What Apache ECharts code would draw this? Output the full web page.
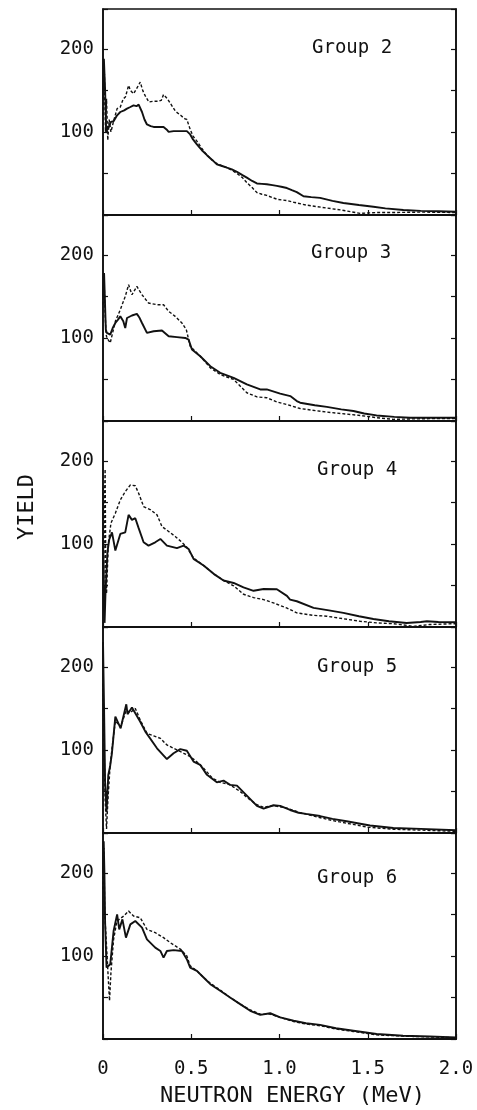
<!DOCTYPE html>
<html>
<head>
<meta charset="utf-8">
<script src="https://cdn.jsdelivr.net/npm/echarts@6/dist/echarts.min.js"></script>
<style>
html,body{margin:0;padding:0;background:#fff;}
#chart{width:477px;height:1110px;}
</style>
</head>
<body>
<div id="chart"></div>
<script>
// ---- data: [energy MeV, yield] ----
const groupNames = ['Group 2', 'Group 3', 'Group 4', 'Group 5', 'Group 6'];
const xTicks = [0, 0.5, 1.0, 1.5, 2.0];
const yTickLabels = [100, 200];

const g2Solid = [[0,140],[0.005,188],[0.012,150],[0.018,100],[0.03,105],[0.045,112],[0.06,113],[0.08,120],[0.098,124],[0.12,126],[0.136,128],[0.155,130],[0.173,132],[0.19,131],[0.202,133],[0.221,124],[0.235,115],[0.249,109],[0.27,107],[0.287,106],[0.31,106],[0.343,106],[0.36,103],[0.372,100],[0.4,101],[0.419,101],[0.45,101],[0.475,101],[0.494,97],[0.51,91],[0.532,85],[0.56,78],[0.589,72],[0.62,66],[0.645,61],[0.675,59],[0.702,57],[0.73,55],[0.759,52],[0.79,48],[0.815,45],[0.845,41],[0.872,38],[0.9,37.5],[0.928,37],[0.96,36],[0.985,35],[1.01,34],[1.042,32.5],[1.07,30],[1.098,27.6],[1.136,22.5],[1.18,21.5],[1.23,20.6],[1.3,17],[1.362,14.5],[1.45,12],[1.532,10],[1.6,8],[1.702,6],[1.8,5],[1.9,4.5],[2.0,4]];
const g2Dashed = [[0,120],[0.008,170],[0.014,100],[0.02,140],[0.027,90],[0.035,115],[0.045,100],[0.06,113],[0.08,128],[0.098,130],[0.115,140],[0.127,142],[0.145,156],[0.155,150],[0.173,146],[0.19,152],[0.211,160],[0.225,150],[0.238,144],[0.26,136],[0.287,137],[0.31,137],[0.33,138],[0.343,145],[0.365,140],[0.383,134],[0.41,125],[0.44,120],[0.462,116],[0.475,115],[0.494,103],[0.51,95],[0.532,89],[0.56,80],[0.589,72],[0.62,66],[0.645,62],[0.675,59],[0.702,57],[0.73,54],[0.759,50],[0.79,45],[0.815,39],[0.845,33],[0.872,27],[0.9,25],[0.928,23.6],[0.96,21],[0.99,18.7],[1.04,17.5],[1.08,15.4],[1.15,12],[1.27,8.3],[1.35,6],[1.457,2],[1.55,3],[1.65,3],[1.8,3.5],[2.0,3]];

const g3Solid = [[0,150],[0.006,178],[0.012,178],[0.016,110],[0.022,106],[0.041,104],[0.055,112],[0.07,118],[0.085,122],[0.098,126],[0.115,120],[0.126,112],[0.136,124],[0.164,127],[0.192,129],[0.205,125],[0.221,118],[0.249,106],[0.287,108],[0.334,109],[0.372,102],[0.419,101],[0.466,100],[0.485,98],[0.504,86],[0.551,78],[0.608,66],[0.664,58],[0.74,52],[0.815,44],[0.891,38],[0.928,38],[1.004,33],[1.061,30],[1.098,24],[1.117,22],[1.2,19],[1.268,17],[1.35,14],[1.419,12],[1.48,9],[1.55,6.7],[1.65,5],[1.74,3.9],[1.85,4],[2.0,4]];
const g3Dashed = [[0,140],[0.006,170],[0.012,130],[0.017,105],[0.022,100],[0.041,94],[0.07,120],[0.098,134],[0.126,150],[0.145,164],[0.164,152],[0.192,162],[0.221,152],[0.258,142],[0.306,140],[0.343,140],[0.372,132],[0.409,126],[0.447,118],[0.472,110],[0.494,90],[0.551,78],[0.608,64],[0.664,56],[0.74,50],[0.815,34],[0.872,29],[0.928,28],[0.985,23],[1.04,20],[1.117,15],[1.268,10.7],[1.35,9],[1.457,6.7],[1.55,4],[1.645,2],[1.75,2.5],[1.85,2.8],[2.0,3]];

const g4Solid = [[0,105],[0.004,60],[0.009,5],[0.014,40],[0.025,90],[0.035,105],[0.051,114],[0.07,92],[0.098,112],[0.126,114],[0.145,135],[0.164,129],[0.183,131],[0.202,119],[0.23,102],[0.258,98],[0.296,102],[0.325,106],[0.362,98],[0.419,95],[0.457,98],[0.485,94],[0.513,82],[0.57,74],[0.627,64],[0.683,56],[0.74,53],[0.796,47.6],[0.853,43.6],[0.91,45.7],[0.985,45.5],[1.042,37.5],[1.06,33],[1.098,31],[1.193,23],[1.28,20],[1.362,17],[1.45,13],[1.532,9.7],[1.62,7],[1.72,4.9],[1.8,6],[1.835,7],[1.9,6],[2.0,5.7]];
const g4Dashed = [[0,168],[0.004,20],[0.008,150],[0.012,190],[0.016,60],[0.02,40],[0.03,100],[0.045,125],[0.07,137],[0.098,153],[0.126,163],[0.155,171],[0.183,170],[0.202,161],[0.23,145],[0.27,141],[0.306,135],[0.334,121],[0.372,115],[0.409,109],[0.447,102],[0.475,96],[0.513,83],[0.57,74],[0.627,64],[0.683,56],[0.74,49.6],[0.796,39.4],[0.853,35.4],[0.91,33],[0.966,29],[1.04,23],[1.098,17],[1.193,14],[1.268,13],[1.36,10],[1.457,6.9],[1.55,5],[1.645,4],[1.76,0.8],[1.85,3],[2.0,4]];

const g5Solid = [[0,230],[0.006,150],[0.012,60],[0.02,25],[0.03,70],[0.04,80],[0.05,95],[0.07,140],[0.1,126],[0.132,155],[0.139,143],[0.164,151],[0.173,150],[0.211,134],[0.24,122],[0.306,102],[0.362,89],[0.4,96],[0.438,101],[0.475,99],[0.513,86],[0.551,82],[0.589,70],[0.645,61],[0.683,63],[0.72,58],[0.759,57],[0.815,45],[0.872,32.6],[0.91,29.3],[0.966,33.4],[1.004,32.6],[1.06,27.7],[1.108,24.4],[1.15,23],[1.23,20.4],[1.3,17],[1.38,14.2],[1.45,11.5],[1.513,9],[1.645,6],[1.8,5],[2.0,3.3]];
const g5Dashed = [[0,180],[0.005,120],[0.012,40],[0.02,5],[0.028,40],[0.04,80],[0.05,100],[0.07,135],[0.1,128],[0.132,148],[0.155,145],[0.183,150],[0.211,136],[0.249,120],[0.287,117],[0.325,114],[0.362,106],[0.419,100],[0.457,96],[0.494,92],[0.53,86],[0.57,78],[0.62,66],[0.664,61],[0.72,58],[0.777,50],[0.815,43],[0.872,34],[0.91,31],[0.966,33],[1.042,30],[1.108,25],[1.2,20],[1.3,15],[1.4,11],[1.5,7],[1.645,4.5],[1.8,3.5],[2.0,2]];

const g6Solid = [[0,200],[0.004,238],[0.008,200],[0.012,140],[0.02,86],[0.03,84],[0.041,90],[0.06,130],[0.08,150],[0.092,132],[0.11,144],[0.13,122],[0.155,138],[0.183,142],[0.221,134],[0.249,120],[0.296,110],[0.325,106],[0.343,98],[0.362,106],[0.4,107],[0.447,106],[0.475,96],[0.494,86],[0.532,82],[0.57,74],[0.608,66],[0.664,58],[0.72,50],[0.777,42],[0.834,34],[0.891,29],[0.947,31],[1.004,26],[1.08,22],[1.15,19],[1.23,17],[1.32,13],[1.419,10],[1.55,6],[1.7,4],[1.85,3],[2.0,2]];
const g6Dashed = [[0,180],[0.005,230],[0.01,150],[0.018,120],[0.028,80],[0.037,46],[0.045,80],[0.06,120],[0.079,142],[0.117,148],[0.145,154],[0.173,148],[0.211,146],[0.249,132],[0.296,128],[0.343,122],[0.381,116],[0.41,112],[0.44,108],[0.475,100],[0.494,88],[0.532,82],[0.57,74],[0.608,67],[0.664,59],[0.72,50],[0.777,42],[0.834,35],[0.891,30],[0.947,30],[1.004,26],[1.08,21],[1.15,18],[1.23,16],[1.32,12],[1.42,9],[1.55,5],[1.7,3.5],[1.85,2.5],[2.0,1.5]];

const solidSets = [g2Solid, g3Solid, g4Solid, g5Solid, g6Solid];
const dashedSets = [g2Dashed, g3Dashed, g4Dashed, g5Dashed, g6Dashed];

// ---- layout ----
const FONT = '"DejaVu Sans Mono", "Liberation Mono", monospace';
const INK = '#111';
const panelTop = 9, panelH = 206, left = 103, gridW = 353;
const labelPos = [[312, 48], [311, 253], [317, 470], [317, 667], [317, 878]];

const grids = [], xAxes = [], yAxes = [], series = [], graphics = [];
for (let i = 0; i < 5; i++) {
  grids.push({left: left, top: panelTop + i * panelH, width: gridW, height: panelH,
    show: true, borderColor: INK, borderWidth: 1.6, backgroundColor: 'transparent'});
  const last = i === 4;
  xAxes.push({type: 'value', gridIndex: i, min: 0, max: 2, interval: 0.5,
    axisLine: {show: true, onZero: false, lineStyle: {color: INK, width: 2}},
    axisTick: {show: true, inside: true, length: 5, lineStyle: {color: INK, width: 1.2}},
    splitLine: {show: false},
    axisLabel: {show: last, margin: 21, color: INK, fontFamily: FONT, fontSize: 19,
      formatter: v => (xTicks.indexOf(v) < 0 ? '' : (v === 0 ? '0' : v.toFixed(1)))},
    name: last ? 'NEUTRON ENERGY (MeV)' : '', nameLocation: 'middle', nameGap: 46,
    nameTextStyle: {color: INK, fontFamily: FONT, fontSize: 22, padding: [0, 0, 0, 26]}
  });
  yAxes.push({type: 'value', gridIndex: i, min: 0, max: 248, interval: 50,
    axisLine: {show: true, lineStyle: {color: INK, width: 1.6}},
    axisTick: {show: true, inside: true, length: 5, lineStyle: {color: INK, width: 1.2}},
    splitLine: {show: false},
    axisLabel: {margin: 9, color: INK, fontFamily: FONT, fontSize: 19,
      formatter: v => (yTickLabels.indexOf(v) >= 0 ? String(v) : '')}
  });
  yAxes.push({type: 'value', gridIndex: i, position: 'right', min: 0, max: 248, interval: 50,
    axisLine: {show: true, lineStyle: {color: INK, width: 1.6}},
    axisTick: {show: true, inside: true, length: 5, lineStyle: {color: INK, width: 1.2}},
    splitLine: {show: false}, axisLabel: {show: false}
  });
  series.push({type: 'line', xAxisIndex: i, yAxisIndex: 2 * i, data: dashedSets[i],
    showSymbol: false, symbol: 'none', animation: false, z: 3,
    lineStyle: {color: INK, width: 1.4, type: [3, 2]}});
  series.push({type: 'line', xAxisIndex: i, yAxisIndex: 2 * i, data: solidSets[i],
    showSymbol: false, symbol: 'none', animation: false, z: 4,
    lineStyle: {color: INK, width: 1.9, type: 'solid'}});
  graphics.push({type: 'text', x: labelPos[i][0], y: labelPos[i][1],
    style: {text: groupNames[i], font: '19px ' + FONT, fill: INK, align: 'left', verticalAlign: 'middle'}});
}
graphics.push({type: 'text', x: 27, y: 507, rotation: Math.PI / 2,
  style: {text: 'YIELD', font: '22px ' + FONT, fill: INK, align: 'center', verticalAlign: 'middle'}});

const chart = echarts.init(document.getElementById('chart'), null, {renderer: 'canvas'});
chart.setOption({
  backgroundColor: '#fff',
  animation: false,
  grid: grids, xAxis: xAxes, yAxis: yAxes, series: series, graphic: graphics
});
</script>
</body>
</html>
